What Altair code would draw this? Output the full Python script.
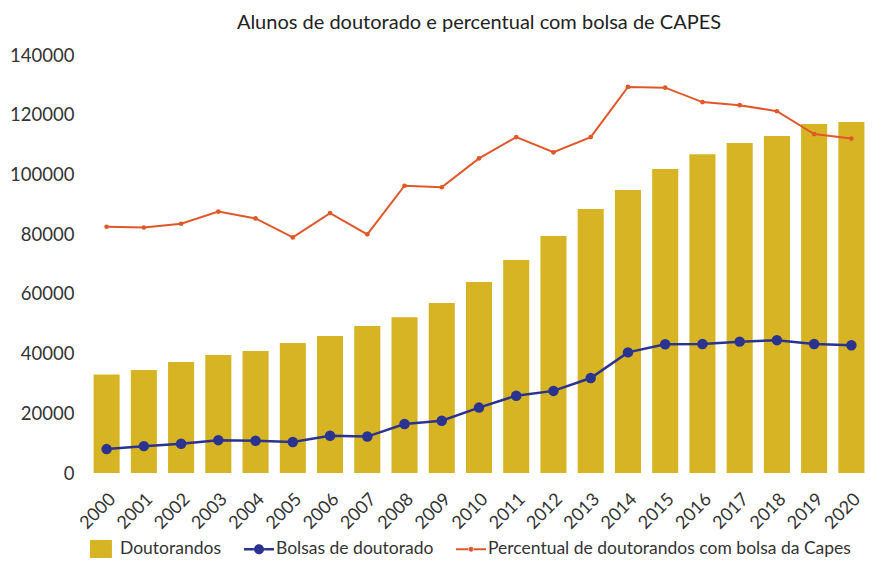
import altair as alt
import pandas as pd

years = [str(y) for y in range(2000, 2021)]
doutorandos = [33000, 34500, 37200, 39500, 40900, 43500, 45900, 49200, 52200, 56900,
               64000, 71300, 79400, 88400, 94800, 101800, 106800, 110500, 112900, 116900, 117600]
bolsas = [8000, 9000, 9800, 11000, 10800, 10400, 12500, 12200, 16400, 17500,
          21900, 25900, 27500, 31800, 40400, 43100, 43200, 44000, 44500, 43200, 42800]
percentual = [24.4, 24.3, 24.8, 26.4, 25.5, 23.0, 26.2, 23.4, 29.8, 29.6,
              33.4, 36.2, 34.2, 36.2, 42.8, 42.7, 40.8, 40.4, 39.6, 36.6, 36.0]
series = ["Doutorandos", "Bolsas de doutorado", "Percentual de doutorandos com bolsa da Capes"]
colors = ["#d6b423", "#2b3390", "#e0582a"]
y_ticks = [0, 20000, 40000, 60000, 80000, 100000, 120000, 140000]

FONT = "Lato"
df = pd.DataFrame({"ano": years, "doutorandos": doutorandos, "bolsas": bolsas, "percentual": percentual})

# legend symbols: 18px box (symbolSize 324), drawn 30px wide to the right
sym_square = "M-0.78,-1L1.66,-1L1.66,1L-0.78,1Z"
sym_blue = ("M-1,-0.14L0.1,-0.14L0.1,0.14L-1,0.14Z M1.23,-0.14L2.33,-0.14L2.33,0.14L1.23,0.14Z "
            "M0.11,0A0.56,0.56,0,1,0,1.23,0A0.56,0.56,0,1,0,0.11,0Z")
sym_orange = ("M-1,-0.11L0.45,-0.11L0.45,0.11L-1,0.11Z M0.88,-0.11L2.33,-0.11L2.33,0.11L0.88,0.11Z "
              "M0.39,0A0.28,0.28,0,1,0,0.95,0A0.28,0.28,0,1,0,0.39,0Z")

x_enc = alt.X("ano:O", title=None,
              scale=alt.Scale(paddingInner=0.3, paddingOuter=0.15),
              axis=alt.Axis(labelAngle=-45, labelFontSize=18, labelFont=FONT, labelColor="#333",
                            domain=False, ticks=False, labelPadding=17))
y_scale = alt.Scale(domain=[0, 140000])
y_axis = alt.Axis(values=y_ticks, format="d", domain=False, ticks=False, grid=False,
                  labelFontSize=18.5, labelFont=FONT, labelColor="#333", labelPadding=14)

base = alt.Chart(df)
bars = base.mark_bar(color=colors[0]).encode(
    x=x_enc, y=alt.Y("doutorandos:Q", title=None, scale=y_scale, axis=y_axis))
blue_line = base.mark_line(color=colors[1], strokeWidth=2.5).encode(
    x=x_enc, y=alt.Y("bolsas:Q", scale=y_scale))
blue_pts = base.mark_point(color=colors[1], filled=True, size=110, opacity=1).encode(
    x=x_enc, y=alt.Y("bolsas:Q", scale=y_scale))

legend_df = pd.DataFrame({"serie": series, "ano": ["2000"] * 3, "v": [-60000] * 3})
legend_layer = alt.Chart(legend_df).mark_point(filled=True, clip=True, opacity=1).encode(
    x=x_enc,
    y=alt.Y("v:Q", scale=y_scale),
    color=alt.Color("serie:N", scale=alt.Scale(domain=series, range=colors),
                    legend=alt.Legend(title=None, orient="bottom", direction="horizontal",
                                      symbolSize=324, symbolStrokeWidth=0,
                                      labelFontSize=17.5, labelFont=FONT, labelColor="#333",
                                      columnPadding=22, labelOffset=14, offset=7,
                                      labelLimit=600)),
    shape=alt.Shape("serie:N", scale=alt.Scale(domain=series, range=[sym_square, sym_blue, sym_orange])),
)

left = alt.layer(bars, blue_line, blue_pts, legend_layer)

pct_scale = alt.Scale(domain=[-8, 47])
orange_line = base.mark_line(color=colors[2], strokeWidth=2).encode(
    x=x_enc, y=alt.Y("percentual:Q", scale=pct_scale, axis=None))
orange_pts = base.mark_point(color=colors[2], filled=True, size=22, opacity=1).encode(
    x=x_enc, y=alt.Y("percentual:Q", scale=pct_scale, axis=None))
right = alt.layer(orange_line, orange_pts)

chart = alt.layer(left, right).resolve_scale(y="independent").properties(
    width=782, height=418,
    title=alt.TitleParams("Alunos de doutorado e percentual com bolsa de CAPES",
                          fontSize=20, font=FONT, fontWeight="normal", color="#222",
                          anchor="middle", offset=13),
    autosize=alt.AutoSizeParams(type="none"),
    padding={"left": 80, "top": 47, "right": 18, "bottom": 88},
).configure_view(stroke=None)

chart.save("out.html", embed_options={"renderer": "svg", "actions": False})
